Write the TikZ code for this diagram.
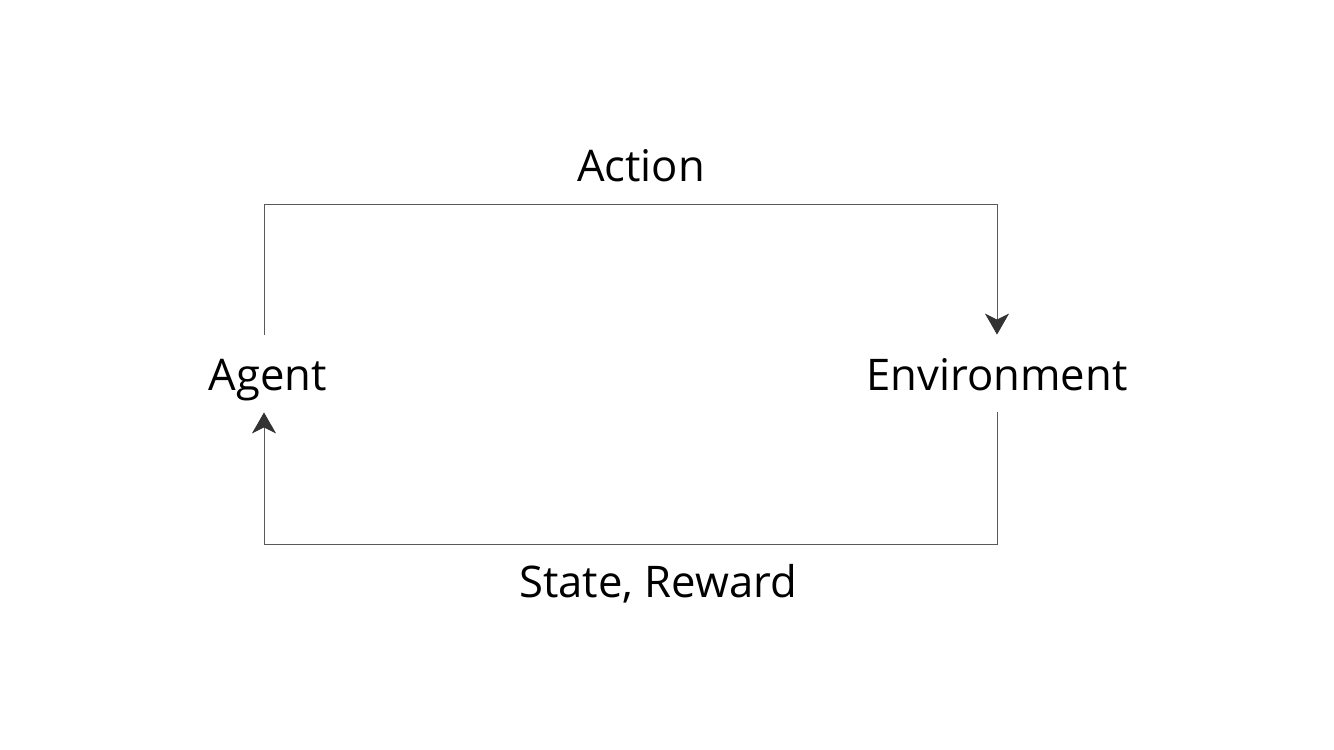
\documentclass[tikz,border=0pt]{standalone}
\usepackage{fontspec}
\setmainfont{Open Sans}
\usetikzlibrary{arrows.meta}
\begin{document}
\begin{tikzpicture}[x=0.5pt,y=-0.5pt,
    txt/.style={font=\fontsize{21.8}{26}\selectfont, inner sep=0pt, anchor=base},
    party/.style={txt, text height=27.5pt, text depth=11pt},
    loopline/.style={draw=black!65, line width=0.5pt},
    tip/.style={-{Stealth[length=10.5pt,width=12pt,inset=3pt,color=black!80]}}]
  \useasboundingbox (0,0) rectangle (1334,750);

  \node [party] (agent) at (268,390) {Agent};
  \node [party] (env) at (997,390) {Environment};
  \node [txt] (action) at (641,181) {Action};
  \node [txt] (state) at (658,597) {State, Reward};

  \coordinate (top) at (641,204);
  \coordinate (bottom) at (658,544);
  \coordinate (agent top) at ([xshift=-2pt]agent.north);
  \coordinate (agent bottom) at ([xshift=-2pt]agent.south);

  % action goes over the top
  \draw [loopline, tip] (agent top) -- (agent top |- top) -| (env.north);
  % state and reward come back underneath
  \draw [loopline, tip] (env.south) -- (env.south |- bottom) -| (agent bottom);
\end{tikzpicture}
\end{document}
